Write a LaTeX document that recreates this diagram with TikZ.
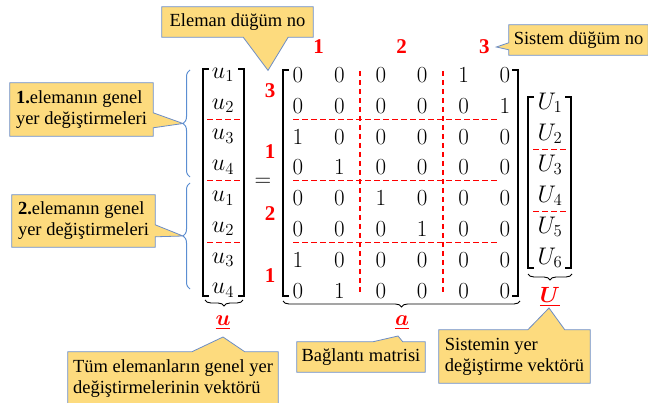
\RequirePackage{fix-cm}
\documentclass[tikz,border=0pt]{standalone}
\usepackage[no-math]{fontspec}
\setmainfont{Liberation Serif}
\usepackage{amsmath,bm}
\usetikzlibrary{positioning, calc, backgrounds, decorations.pathreplacing}

\definecolor{notefill}{HTML}{FDDB7E}
\definecolor{noteline}{HTML}{6C8DC6}
\definecolor{bracecol}{HTML}{5B8ED2}

\begin{document}
\begin{tikzpicture}[
    x=1pt, y=-1pt,
    note/.style={font=\fontsize{18.5}{21}\selectfont, align=left, inner sep=2pt},
    notebg/.style={draw=noteline, fill=notefill, line width=0.8pt},
    entry/.style={font=\fontsize{23}{26}\selectfont, inner sep=0pt},
    vecent/.style={font=\fontsize{24}{26}\selectfont, inner sep=0pt},
    nodeno/.style={text=red, font=\fontsize{21}{24}\selectfont\bfseries, inner sep=0pt},
    vname/.style={text=red, font=\fontsize{22}{24}\selectfont, inner sep=0pt},
    cut/.style={red, line width=1.3pt, dash pattern=on 5.5pt off 3.5pt},
    bracket/.style={line width=1.7pt},
    elbrace/.style={decorate, decoration={brace, amplitude=7pt}, draw=bracecol, line width=1pt},
    under/.style={decorate, decoration={brace, amplitude=6pt}, line width=0.9pt}
]
    \useasboundingbox (0,0) rectangle (648,403);

    % --- element displacement vector u ---
    \foreach \i/\k in {1/1,2/2,3/3,4/4,5/1,6/2,7/3,8/4}
        \node[vecent] (u\i) at (223, {75+30.8*(\i-1)}) {$u_{\k}$};
    \draw[bracket] (209,69) -- (203,69) -- (203,296) -- (209,296);
    \draw[bracket] (238,69) -- (244,69) -- (244,296) -- (238,296);
    \foreach \a/\b in {2/3,4/5,6/7}
        \draw[cut] ($(u\a)!0.5!(u\b)+(-16,-2)$) -- ($(u\a)!0.5!(u\b)+(19,-2)$);

    % element braces
    \coordinate (tipC) at (183,123.5);
    \coordinate (tipD) at (183,236);
    \draw[elbrace] (190,177) -- (190,70);
    \draw[elbrace] (190,289) -- (190,183);

    \draw[under] (243,300) -- (205,300);
    \node[vname] (ulab) at (223,323) {$\underline{\bm{u}}$};

    \node[entry] (eq) at (263,182) {$=$};

    % --- connectivity matrix a ---
    \foreach \row [count=\r] in {{0,0,0,0,1,0},{0,0,0,0,0,1},{1,0,0,0,0,0},{0,1,0,0,0,0},
                                 {0,0,1,0,0,0},{0,0,0,1,0,0},{1,0,0,0,0,0},{0,1,0,0,0,0}}
        \foreach \v [count=\c] in \row
            \node[entry] (a-\r-\c) at ({298+41.4*(\c-1)}, {75+30.8*(\r-1)}) {$\v$};
    \draw[bracket] (289,70) -- (283,70) -- (283,296) -- (289,296);
    \draw[bracket] (512,70) -- (518,70) -- (518,296) -- (512,296);

    \foreach \a/\b in {2/3,4/5,6/7}
        \draw[cut] ($(a-\a-1)!0.5!(a-\b-1)+(-5,-2)$) -- ($(a-\a-6)!0.5!(a-\b-6)+(-7,-2)$);
    \foreach \a/\b in {2/3,4/5}
        \draw[cut] ($(a-1-\a)!0.5!(a-1-\b)+(0,-4)$) -- ($(a-8-\a)!0.5!(a-8-\b)+(0,1)$);

    % system node numbers (top) and element node numbers (left)
    \foreach \c/\d/\t in {1/2/1,3/4/2,5/6/3}
        \node[nodeno] (s\t) at ($(a-1-\c)!0.5!(a-1-\d)+(0,-28)$) {\t};
    \foreach \a/\b/\t [count=\k] in {1/2/3,3/4/1,5/6/2,7/8/1}
        \node[nodeno] (e\k) at ($(a-\a-1)!0.5!(a-\b-1)+(-28,0)$) {\t};

    \draw[under] (520,301) -- (283,301);
    \node[vname] (alab) at (402,323) {$\underline{\bm{a}}$};

    % --- system displacement vector U ---
    \foreach \i in {1,...,6}
        \node[vecent] (U\i) at (550, {103+31*(\i-1)}) {$U_{\i}$};
    \draw[bracket] (534,97) -- (528,97) -- (528,268) -- (534,268);
    \draw[bracket] (565,97) -- (571,97) -- (571,268) -- (565,268);
    \foreach \a/\b in {2/3,4/5}
        \draw[cut] ($(U\a)!0.5!(U\b)+(-17,0)$) -- ($(U\a)!0.5!(U\b)+(17,0)$);
    \draw[under] (572,274) -- (528,274);
    \node[vname] (Ulab) at (550,297) {$\underline{\bm{U}}$};

    % --- callouts ---
    \coordinate (tipA) at ($(e1)+(-2,-20)$);
    \coordinate (tipB) at ($(s3)+(12,0)$);
    \coordinate (tipE) at ($(ulab)+(0,14)$);
    \coordinate (tipF) at ($(alab)+(-4,13)$);
    \coordinate (tipG) at ($(Ulab)+(-1,11)$);

    \node[note, minimum width=151, minimum height=30] (elnote) at (237.5,22) {Eleman düğüm no};
    \node[note, minimum width=139, minimum height=30] (sysnote) at (578.5,40) {Sistem düğüm no};
    \node[note, minimum width=143, minimum height=53] (el1note) at (81.5,109.5)
        {\textbf{1.}elemanın genel\\yer değiştirmeleri};
    \node[note, minimum width=143, minimum height=52] (el2note) at (83.5,221)
        {\textbf{2.}elemanın genel\\yer değiştirmeleri};
    \node[note, minimum width=210, minimum height=53] (unote) at (173,378.5)
        {Tüm elemanların genel yer\\değiştirmelerinin vektörü};
    \node[note, minimum width=128, minimum height=30] (anote) at (361,357) {Bağlantı matrisi};
    \node[note, minimum width=151, minimum height=53] (Unote) at (514.5,356.5)
        {Sistemin yer\\değiştirme vektörü};

    \begin{scope}[on background layer]
        \draw[notebg] (elnote.north west) -- (elnote.north east) -- (elnote.south east)
            -- ([xshift=-25pt]elnote.south east) -- (tipA) -- ([xshift=-70pt]elnote.south east)
            -- (elnote.south west) -- cycle;
        \draw[notebg] (sysnote.north west) -- (sysnote.north east) -- (sysnote.south east)
            -- (sysnote.south west) -- ([yshift=-25pt]sysnote.north west) -- (tipB)
            -- ([yshift=-18pt]sysnote.north west) -- cycle;
        \draw[notebg] (el1note.north west) -- (el1note.north east)
            -- ([yshift=-30pt]el1note.north east) -- (tipC) -- ([yshift=-45pt]el1note.north east)
            -- (el1note.south east) -- (el1note.south west) -- cycle;
        \draw[notebg] (el2note.north west) -- (el2note.north east)
            -- ([yshift=-30pt]el2note.north east) -- (tipD) -- ([yshift=-42pt]el2note.north east)
            -- (el2note.south east) -- (el2note.south west) -- cycle;
        \draw[notebg] (unote.north west) -- ([xshift=124pt]unote.north west) -- (tipE)
            -- ([xshift=177pt]unote.north west) -- (unote.north east) -- (unote.south east)
            -- (unote.south west) -- cycle;
        \draw[notebg] (anote.north west) -- ([xshift=76pt]anote.north west) -- (tipF)
            -- ([xshift=106pt]anote.north west) -- (anote.north east) -- (anote.south east)
            -- (anote.south west) -- cycle;
        \draw[notebg] (Unote.north west) -- ([xshift=89pt]Unote.north west) -- (tipG)
            -- ([xshift=126pt]Unote.north west) -- (Unote.north east) -- (Unote.south east)
            -- (Unote.south west) -- cycle;
    \end{scope}

\end{tikzpicture}
\end{document}
